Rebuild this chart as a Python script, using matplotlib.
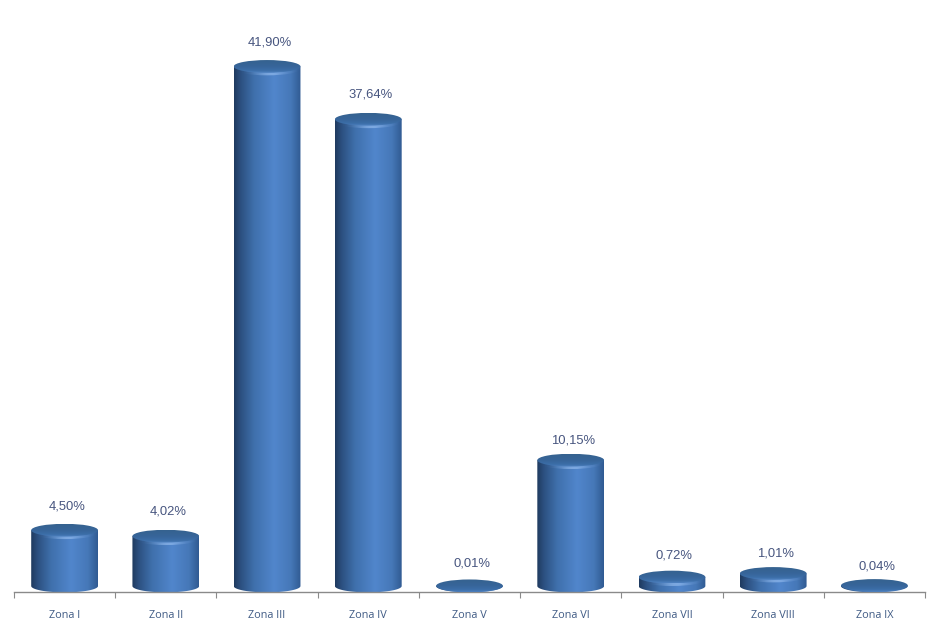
import matplotlib
matplotlib.use('Agg')
import matplotlib.pyplot as plt
import numpy as np
from matplotlib.colors import LinearSegmentedColormap
from matplotlib.patches import Ellipse, PathPatch
from matplotlib.path import Path

zones = ['Zona I', 'Zona II', 'Zona III', 'Zona IV', 'Zona V', 'Zona VI', 'Zona VII', 'Zona VIII', 'Zona IX']
values = [4.50, 4.02, 41.90, 37.64, 0.01, 10.15, 0.72, 1.01, 0.04]
labels = ['4,50%', '4,02%', '41,90%', '37,64%', '0,01%', '10,15%', '0,72%', '1,01%', '0,04%']
label_gaps = [24, 25, 25, 25, 23, 20, 22, 21, 20]  # pixels from cap centre to label

W, H = 940, 623
PX_PER_UNIT = 12.4    # pixels for 1% on the y axis
BASE_PX = 586         # row of the bottom ellipse centre
AXIS_PX = 592
BAR_W = 0.66
CAP = 6.4 / PX_PER_UNIT  # half height of the ellipses

body_cmap = LinearSegmentedColormap.from_list('body', [
    (0.0, '#1f3a5f'), (0.1, '#2c5080'), (0.3, '#3f70ac'), (0.6, '#5186cc'),
    (0.85, '#4678b8'), (1.0, '#305a92')])
cap_cmap = LinearSegmentedColormap.from_list('cap', [
    (0.0, '#35628f'), (0.5, '#37659a'), (0.8, '#3c6ea8'), (1.0, '#4f82c2')])

fig = plt.figure(figsize=(W / 100, H / 100), dpi=100, facecolor='white')
ax = fig.add_axes([14 / W, 1 - AXIS_PX / H, (925 - 14) / W, AXIS_PX / H])

grad = np.linspace(0, 1, 256).reshape(1, -1)
t = np.linspace(0, np.pi, 80)

for i, v in enumerate(values):
    cx = i + 0.5
    left, right = cx - BAR_W / 2, cx + BAR_W / 2

    # cylinder body: top edge straight, bottom edge rounded
    xs = np.concatenate([[left, right], cx + BAR_W / 2 * np.cos(t)])
    ys = np.concatenate([[v, v], -CAP * np.sin(t)])
    patch = PathPatch(Path(np.column_stack([xs, ys])), fc='none', ec='none')
    ax.add_patch(patch)
    im = ax.imshow(grad, cmap=body_cmap, extent=[left, right, -CAP, v + CAP],
                   aspect='auto', zorder=2)
    im.set_clip_path(patch)

    # light rim just under the top
    if v > 0.5:
        glow = np.zeros((1, 256, 4))
        glow[..., :3] = matplotlib.colors.to_rgb('#9cc2f2')
        glow[..., 3] = 0.6 * np.exp(-((np.linspace(0, 1, 256) - 0.55) / 0.22) ** 2)
        shifted = Ellipse((cx, v - 2.5 / PX_PER_UNIT), BAR_W, 2 * CAP, fc='none', ec='none')
        ax.add_patch(shifted)
        g = ax.imshow(glow, extent=[left, right, v - CAP - 1, v + CAP],
                      aspect='auto', zorder=3)
        g.set_clip_path(shifted)

    # top cap
    cap = Ellipse((cx, v), BAR_W, 2 * CAP, fc='none', ec='none')
    ax.add_patch(cap)
    c = ax.imshow(np.linspace(0, 1, 64).reshape(-1, 1), cmap=cap_cmap,
                  extent=[left, right, v - CAP, v + CAP], aspect='auto', zorder=4)
    c.set_clip_path(cap)

    ax.annotate(labels[i], (cx, v), xytext=(2.5 * 0.72, label_gaps[i] * 0.72 - 0.5),
                textcoords='offset points', ha='center', va='center', fontsize=9.4,
                color='#47557f', family='Liberation Sans', zorder=5)

ax.set_xlim(0, len(zones))
ax.set_ylim((BASE_PX - AXIS_PX) / PX_PER_UNIT, BASE_PX / PX_PER_UNIT)

for s in ['top', 'left', 'right']:
    ax.spines[s].set_visible(False)
ax.spines['bottom'].set_color('#8a8a8a')
ax.spines['bottom'].set_linewidth(1.0)
ax.set_yticks([])
ax.set_xticks(np.arange(len(zones) + 1))
ax.set_xticklabels([])
ax.tick_params(axis='x', which='major', length=4, width=0.8, color='#8a8a8a')
ax.set_xticks(np.arange(len(zones)) + 0.5, minor=True)
ax.set_xticklabels(zones, minor=True, fontsize=7.8, color='#3f5a84', family='Open Sans')
ax.tick_params(axis='x', which='minor', length=0, pad=13)
ax.patch.set_alpha(0)

fig.savefig('out.png', dpi=100)
